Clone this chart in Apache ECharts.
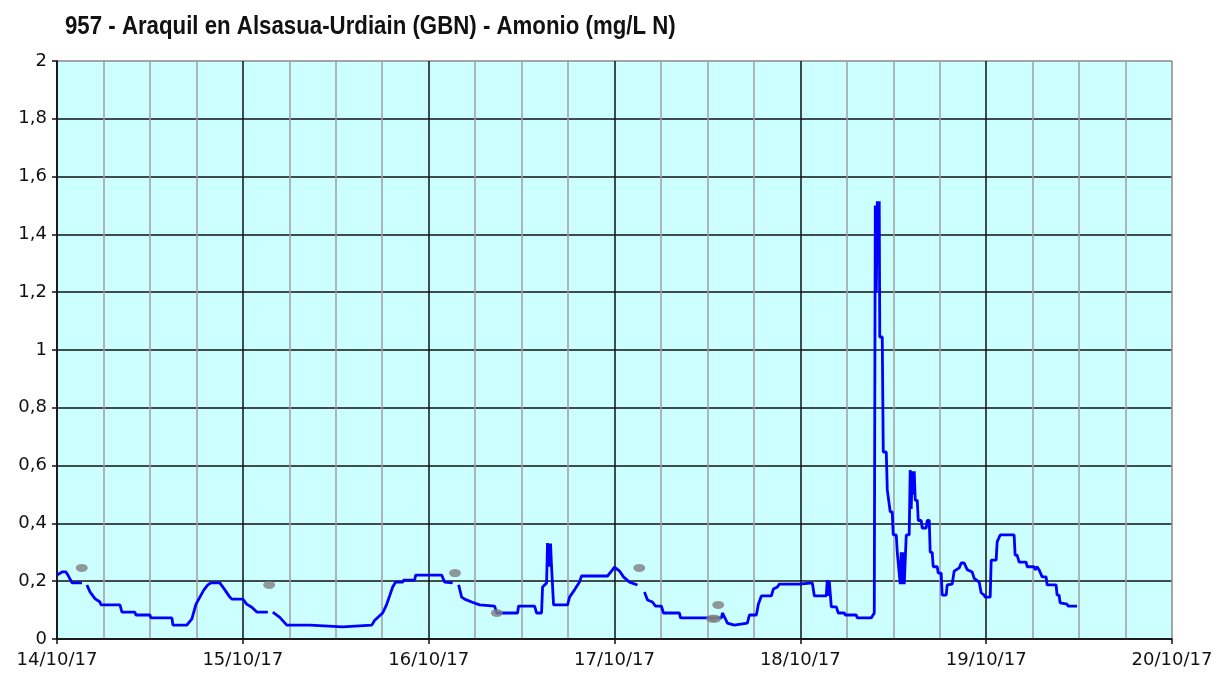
<!DOCTYPE html>
<html>
<head>
<meta charset="utf-8">
<script src="https://cdn.jsdelivr.net/npm/echarts@6/dist/echarts.min.js"></script>
<style>
  html, body { margin: 0; padding: 0; background: #fff; }
  #chart { width: 1217px; height: 676px; }
</style>
</head>
<body>
<div id="chart"></div>
<script>
// hours counted from 14/10/17 00:00
const dayLabels = ['14/10/17', '15/10/17', '16/10/17', '17/10/17', '18/10/17', '19/10/17', '20/10/17']

const hours = [
  0.0, 0.65, 1.16, 1.42, 1.94, 3.23, 3.5, 3.87, 4.26, 4.9, 5.55, 5.68, 8.13, 8.39, 10.06, 10.19, 12.0, 12.13,
  14.84, 14.97, 16.77, 17.42, 17.94, 18.45, 18.97, 19.48, 19.87, 21.03, 21.68, 22.32, 22.58, 24.0, 24.52, 25.16,
  25.81, 27.23, 27.6, 27.87, 28.77, 29.68, 32.65, 32.77, 36.9, 37.03, 40.65, 41.03, 42.06, 42.58, 42.97, 43.35,
  43.74, 44.65, 44.77, 46.19, 46.32, 49.68, 50.06, 51.1, 51.4, 51.87, 52.26, 52.65, 53.55, 54.58, 56.52, 56.77,
  59.48, 59.61, 61.68, 61.94, 62.58, 62.71, 63.23, 63.35, 63.61, 63.74, 63.87, 64.13, 65.94, 66.19, 66.84, 67.48,
  67.74, 71.1, 71.61, 72.0, 72.65, 73.16, 73.94, 74.97, 75.3, 75.87, 76.26, 76.9, 77.29, 78.06, 78.32, 80.39,
  80.52, 85.81, 85.94, 86.32, 86.58, 87.48, 89.16, 89.42, 90.32, 90.58, 90.97, 92.26, 92.52, 93.03, 93.29, 95.87,
  97.55, 97.81, 99.35, 99.48, 99.61, 99.74, 100.0, 100.65, 100.9, 101.68, 101.81, 103.23, 103.35, 105.16, 105.55,
  105.68, 105.81, 105.94, 106.07, 106.19, 106.26, 106.58, 106.71, 107.1, 107.23, 107.48, 107.61, 107.87, 108.0,
  108.39, 108.52, 108.77, 108.9, 109.03, 109.16, 109.29, 109.42, 109.55, 109.68, 110.06, 110.19, 110.32, 110.45,
  110.58, 110.71, 110.84, 111.1, 111.23, 111.61, 111.74, 112.26, 112.39, 112.65, 112.77, 113.03, 113.16, 113.68,
  113.81, 114.19, 114.32, 114.84, 114.97, 115.61, 115.87, 116.52, 116.77, 117.16, 117.55, 118.19, 118.45, 119.1,
  119.35, 119.74, 119.87, 120.52, 120.65, 121.29, 121.42, 121.81, 123.61, 123.74, 124.0, 124.26, 125.16, 125.29,
  126.19, 126.32, 126.58, 126.84, 127.23, 127.74, 127.87, 129.03, 129.16, 129.42, 129.55, 130.45, 130.58, 131.74
]

const amonio = [
  0.221, 0.232, 0.232, 0.221, 0.194, 0.194, null, 0.187, 0.163, 0.14, 0.128, 0.118, 0.118, 0.093, 0.093, 0.083, 0.083, 0.073,
  0.073, 0.048, 0.048, 0.07, 0.12, 0.145, 0.17, 0.187, 0.194, 0.194, 0.17, 0.145, 0.138, 0.138, 0.12, 0.11,
  0.093, 0.093, null, 0.093, 0.075, 0.048, 0.048, 0.042, 0.042, 0.048, 0.048, 0.065, 0.09, 0.12, 0.15, 0.18,
  0.197, 0.197, 0.204, 0.204, 0.221, 0.221, 0.197, 0.194, null, 0.187, 0.145, 0.138, 0.128, 0.118, 0.114, 0.09,
  0.09, 0.114, 0.114, 0.09, 0.09, 0.18, 0.194, 0.332, 0.25, 0.33, 0.25, 0.118, 0.118, 0.145, 0.17, 0.197,
  0.218, 0.218, 0.235, 0.249, 0.235, 0.215, 0.197, 0.187, null, 0.163, 0.135, 0.128, 0.114, 0.114, 0.09, 0.09,
  0.073, 0.073, 0.09, 0.07, 0.055, 0.048, 0.055, 0.083, 0.083, 0.12, 0.149, 0.149, 0.173, 0.18, 0.19, 0.19,
  0.194, 0.149, 0.149, 0.204, 0.149, 0.2, 0.111, 0.111, 0.09, 0.09, 0.083, 0.083, 0.073, 0.073, 0.09,
  1.5, 1.2, 1.515, 1.3, 1.515, 1.045, 1.045, 0.647, 0.647, 0.516, 0.516, 0.44, 0.44, 0.36,
  0.36, 0.30, 0.30, 0.19, 0.3, 0.19, 0.3, 0.19, 0.187, 0.36, 0.36, 0.585, 0.45, 0.58,
  0.5, 0.58, 0.48, 0.48, 0.41, 0.41, 0.384, 0.384, 0.41, 0.41, 0.30, 0.30, 0.25, 0.25,
  0.228, 0.228, 0.152, 0.152, 0.187, 0.19, 0.235, 0.246, 0.263, 0.263, 0.24, 0.232, 0.21, 0.197,
  0.16, 0.152, 0.145, 0.145, 0.273, 0.273, 0.336, 0.36, 0.36, 0.29, 0.29, 0.266, 0.266, 0.25,
  0.25, 0.239, 0.25, 0.239, 0.215, 0.215, 0.187, 0.187, 0.152, 0.152, 0.125, 0.121, 0.114, 0.114
]

// lab samples (grey dots)
const labHours = [3.2, 27.4, 51.4, 56.8, 75.2, 84.6, 85.0, 85.4]
const labValues = [0.246, 0.187, 0.228, 0.09, 0.246, 0.07, 0.07, 0.118]

const yTicks = ['0', '0,2', '0,4', '0,6', '0,8', '1', '1,2', '1,4', '1,6', '1,8', '2']

const titleText = '957 - Araquil en Alsasua-Urdiain (GBN) - Amonio (mg/L N)'

const chart = echarts.init(document.getElementById('chart'))

const labelFont = {
  color: '#111',
  fontSize: 18,
  fontFamily: 'DejaVu Sans',
}

const option = {
  animation: false,
  // narrow bold title: no condensed font installed, so squeeze it horizontally
  graphic: [
    {
      type: 'text',
      x: 65,
      y: 15,
      scaleX: 0.89,
      style: {
        text: titleText,
        fill: '#111',
        font: 'bold 25px "Liberation Sans", Arial, sans-serif',
      },
    },
  ],
  grid: {
    left: 57,
    right: 45,
    top: 61,
    bottom: 37,
    show: true,
    backgroundColor: '#ccffff',
    borderColor: '#999',
    borderWidth: 1,
  },
  xAxis: {
    type: 'value',
    min: 0,
    max: 144,
    interval: 24,
    axisLine: { show: true, lineStyle: { color: '#111', width: 1.5 } },
    axisTick: { show: true, length: 5, lineStyle: { color: '#111', width: 1.5 } },
    axisLabel: {
      ...labelFont,
      margin: 12,
      formatter: (v) => dayLabels[Math.round(v / 24)],
    },
    splitLine: {
      show: true,
      lineStyle: { color: ['#111', '#111', '#111', '#111', '#111', '#111', '#999'], width: 1.5 },
    },
    minorTick: { show: false, splitNumber: 4 },
    minorSplitLine: { show: true, lineStyle: { color: '#a0a0a0', width: 1.5 } },
  },
  yAxis: {
    type: 'value',
    min: 0,
    max: 2,
    interval: 0.2,
    axisLine: { show: true, lineStyle: { color: '#111', width: 1.5 } },
    axisTick: { show: true, length: 5, lineStyle: { color: '#111', width: 1.5 } },
    axisLabel: {
      ...labelFont,
      margin: 10,
      formatter: (v) => yTicks[Math.round(v * 5)],
    },
    splitLine: {
      show: true,
      lineStyle: {
        color: ['#111', '#111', '#111', '#111', '#111', '#111', '#111', '#111', '#111', '#111', '#999'],
        width: 1.5,
      },
    },
  },
  series: [
    {
      name: 'Amonio',
      type: 'line',
      data: hours.map((h, i) => [h, amonio[i]]),
      showSymbol: false,
      connectNulls: false,
      lineStyle: { color: '#0000ff', width: 2.8 },
      z: 3,
    },
    {
      name: 'Laboratorio',
      type: 'scatter',
      data: labHours.map((h, i) => [h, labValues[i]]),
      symbol: 'circle',
      symbolSize: [12, 8],
      itemStyle: { color: '#808080' },
      z: 4,
    },
  ],
}

option && chart.setOption(option)
</script>
</body>
</html>
